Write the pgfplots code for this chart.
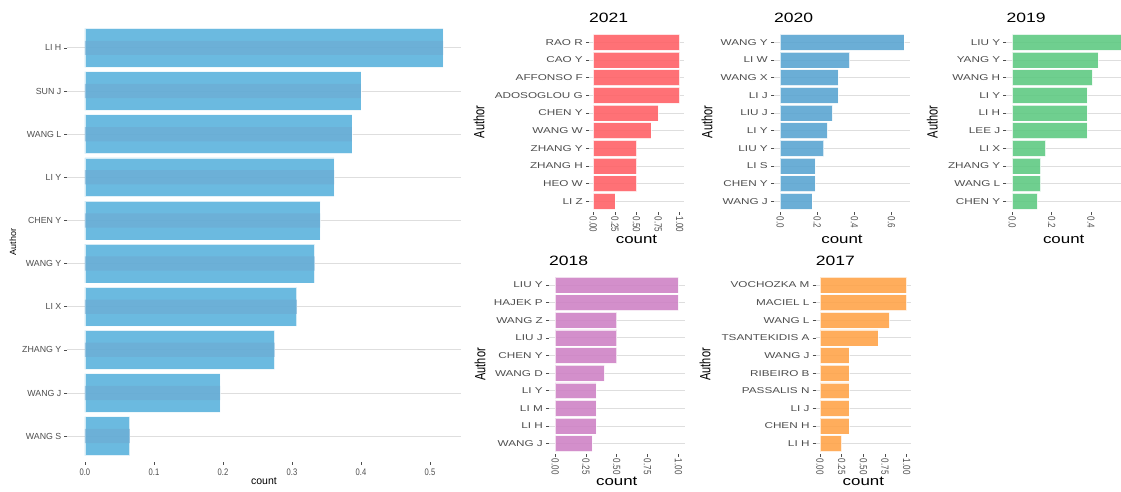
\documentclass[border=0pt]{standalone}
\usepackage{fontspec}
\setmainfont{Liberation Sans}
\newfontfamily\wide[FakeStretch=1.3]{Liberation Sans}
\newfontfamily\widet[FakeStretch=1.38]{Liberation Sans}
\newfontfamily\narrow[FakeStretch=0.8]{Liberation Sans}
\usepackage{pgfplots}
\pgfplotsset{compat=1.18}
\definecolor{tickc}{RGB}{77,77,77}
\definecolor{gridc}{RGB}{222,222,222}
\definecolor{cblue}{RGB}{91,179,221}
\definecolor{cband}{RGB}{110,168,208}
\definecolor{cred}{RGB}{255,98,103}
\definecolor{cblue2}{RGB}{91,165,209}
\definecolor{cgreen}{RGB}{95,202,131}
\definecolor{cpurple}{RGB}{206,131,197}
\definecolor{corange}{RGB}{255,164,74}
\pgfplotsset{
  base/.style={
    scale only axis, anchor=south west,
    xbar,
    ymin=0.4, ymax=10.6, ytick={1,...,10},
    axis x line*=bottom, axis y line*=left,
    axis line style={draw=none},
    ymajorgrids, grid style={gridc, line width=0.9pt},
    tick style={tickc, line width=0.6pt},
    major tick length=3pt, tick align=outside,
    yticklabel style={color=tickc, inner sep=2.5pt},
    xticklabel style={color=tickc},
    scaled x ticks=false,
    /pgf/number format/assume math mode=true,
    clip=true,
  },
  small/.style={
    base,
    yticklabel style={font=\widet\fontsize{8.5}{9}\selectfont, inner sep=3pt},
    xticklabel style={rotate=-90, anchor=west, inner sep=1.5pt,
      font=\fontsize{8}{8}\selectfont},
    xlabel={count},
    xlabel style={at={(axis description cs:0.5,0)}, anchor=center, yshift=-27pt,
      font=\wide\fontsize{13}{13}\selectfont},
    ylabel style={at={(axis description cs:0,0.5)}, anchor=center,
      font=\fontsize{11}{11}\selectfont},
    title style={at={(axis description cs:0,1)}, anchor=base west, yshift=3pt,
      inner sep=0pt, font=\wide\fontsize{13.5}{13.5}\selectfont},
  },
  bars/.style={fill=#1, fill opacity=0.9, draw=white, draw opacity=0.7,
    line width=0.6pt, bar shift=0pt, bar width=0.9},
}
\newcommand{\rl}[1]{\scalebox{1}[1.3]{#1}}
\begin{document}
\begin{tikzpicture}
\useasboundingbox (0,0) rectangle (1121pt,492pt);

% ---------------- overall ----------------
\begin{axis}[base, at={(67pt,30pt)}, width=394pt, height=440pt,
  xmin=-0.026, xmax=0.545,
  xtick={0,0.1,0.2,0.3,0.4,0.5},
  xticklabels={0.0,0.1,0.2,0.3,0.4,0.5},
  xticklabel style={font=\narrow\fontsize{9.5}{9.5}\selectfont},
  yticklabel style={font=\fontsize{8.8}{9}\selectfont},
  yticklabels={WANG S,WANG J,ZHANG Y,LI X,WANG Y,CHEN Y,LI Y,WANG L,SUN J,LI H},
  xlabel={count},
  xlabel style={at={(axis description cs:0.5,0)}, anchor=center, yshift=-19pt,
    font=\fontsize{10.5}{10.5}\selectfont},
  ylabel={Author},
  ylabel style={at={(axis description cs:0,0.5)}, anchor=center, yshift=54pt,
    font=\fontsize{9}{9}\selectfont},
]
\addplot[bars=cblue] coordinates {(0.065,1) (0.196,2) (0.275,3) (0.307,4) (0.333,5)
  (0.341,6) (0.361,7) (0.387,8) (0.400,9) (0.519,10)};
\addplot[fill=cband, fill opacity=0.55, draw=none, bar shift=0pt, bar width=0.33]
  coordinates {(0.065,1) (0.196,2) (0.275,3) (0.307,4) (0.333,5)
  (0.341,6) (0.361,7) (0.387,8) (0.400,9) (0.519,10)};
\end{axis}

% ---------------- 2021 ----------------
\begin{axis}[small, at={(589pt,280pt)}, width=95pt, height=180.3pt,
  xmin=-0.05, xmax=1.05, title={2021},
  xtick={0,0.25,0.5,0.75,1},
  xticklabels={\rl{0.00},\rl{0.25},\rl{0.50},\rl{0.75},\rl{1.00}},
  yticklabels={LI Z,HEO W,ZHANG H,ZHANG Y,WANG W,CHEN Y,ADOSOGLOU G,AFFONSO F,CAO Y,RAO R},
  ylabel={\scalebox{1}[1.35]{Author}},
  ylabel style={yshift=110pt},
]
\addplot[bars=cred] coordinates {(0.25,1) (0.5,2) (0.5,3) (0.5,4) (0.667,5)
  (0.75,6) (1,7) (1,8) (1,9) (1,10)};
\end{axis}

% ---------------- 2020 ----------------
\begin{axis}[small, at={(774pt,280pt)}, width=136pt, height=180.3pt,
  xmin=-0.0333, xmax=0.70, title={2020},
  xtick={0,0.2,0.4,0.6},
  xticklabels={\rl{0.0},\rl{0.2},\rl{0.4},\rl{0.6}},
  yticklabels={WANG J,CHEN Y,LI S,LIU Y,LI Y,LIU J,LI J,WANG X,LI W,WANG Y},
  ylabel={\scalebox{1}[1.35]{Author}},
  ylabel style={yshift=67pt},
]
\addplot[bars=cblue2] coordinates {(0.171,1) (0.189,2) (0.189,3) (0.235,4) (0.255,5)
  (0.282,6) (0.313,7) (0.313,8) (0.375,9) (0.667,10)};
\end{axis}

% ---------------- 2019 ----------------
\begin{axis}[small, at={(1006.4pt,280pt)}, width=114.6pt, height=180.3pt,
  xmin=-0.03, xmax=0.553, title={2019},
  xtick={0,0.2,0.4},
  xticklabels={\rl{0.0},\rl{0.2},\rl{0.4}},
  yticklabels={CHEN Y,WANG L,ZHANG Y,LI X,LEE J,LI H,LI Y,WANG H,YANG Y,LIU Y},
  ylabel={\scalebox{1}[1.35]{Author}},
  ylabel style={yshift=74pt},
]
\addplot[bars=cgreen] coordinates {(0.127,1) (0.144,2) (0.144,3) (0.169,4) (0.381,5)
  (0.381,6) (0.381,7) (0.407,8) (0.436,9) (0.6,10)};
\end{axis}

% ---------------- 2018 ----------------
\begin{axis}[small, at={(549pt,37.8pt)}, width=135.5pt, height=179.7pt,
  xmin=-0.05, xmax=1.05, title={2018},
  title style={yshift=-0.5pt},
  xtick={0,0.25,0.5,0.75,1},
  xticklabels={\rl{0.00},\rl{0.25},\rl{0.50},\rl{0.75},\rl{1.00}},
  yticklabels={WANG J,LI H,LI M,LI Y,WANG D,CHEN Y,LIU J,WANG Z,HAJEK P,LIU Y},
  ylabel={\scalebox{1}[1.35]{Author}},
  ylabel style={yshift=69pt},
  xlabel style={yshift=-0.5pt},
]
\addplot[bars=cpurple] coordinates {(0.3,1) (0.333,2) (0.333,3) (0.333,4) (0.4,5)
  (0.5,6) (0.5,7) (0.5,8) (1,9) (1,10)};
\end{axis}

% ---------------- 2017 ----------------
\begin{axis}[small, at={(815.7pt,37.8pt)}, width=95.3pt, height=179.7pt,
  xmin=-0.05, xmax=1.05, title={2017},
  title style={yshift=-0.5pt},
  xtick={0,0.25,0.5,0.75,1},
  xticklabels={\rl{0.00},\rl{0.25},\rl{0.50},\rl{0.75},\rl{1.00}},
  yticklabels={LI H,CHEN H,LI J,PASSALIS N,RIBEIRO B,WANG J,TSANTEKIDIS A,WANG L,MACIEL L,VOCHOZKA M},
  ylabel={\scalebox{1}[1.35]{Author}},
  ylabel style={yshift=110.7pt},
  xlabel style={yshift=-0.5pt},
]
\addplot[bars=corange] coordinates {(0.25,1) (0.333,2) (0.333,3) (0.333,4) (0.333,5)
  (0.333,6) (0.667,7) (0.8,8) (1,9) (1,10)};
\end{axis}
\end{tikzpicture}
\end{document}
